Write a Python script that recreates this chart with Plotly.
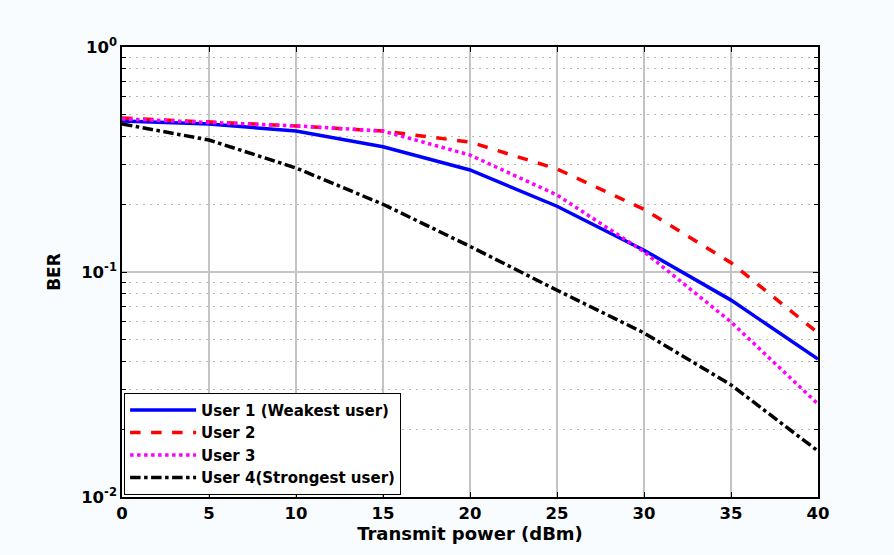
import plotly.graph_objects as go

# Transmit power sweep (dBm)
power_dbm = [0, 5, 10, 15, 20, 25, 30, 35, 40]

# Bit error rate per user
ber_user1 = [0.469, 0.455, 0.423, 0.360, 0.284, 0.196, 0.125, 0.075, 0.041]
ber_user2 = [0.483, 0.464, 0.446, 0.423, 0.378, 0.287, 0.190, 0.110, 0.0536]
ber_user3 = [0.479, 0.463, 0.446, 0.423, 0.331, 0.220, 0.123, 0.060, 0.0259]
ber_user4 = [0.455, 0.386, 0.290, 0.200, 0.130, 0.083, 0.0536, 0.0315, 0.016]

series_names = ["User 1 (Weakest user)", "User 2", "User 3", "User 4(Strongest user)"]

x_ticks = [0, 5, 10, 15, 20, 25, 30, 35, 40]
y_tickvals = [1, 0.1, 0.01]
y_ticktext = ["10<sup>0</sup>", "10<sup>-1</sup>", "10<sup>-2</sup>"]
y_minor = [m * d for d in (0.01, 0.1) for m in range(2, 10)]

FONT = "DejaVu Sans, sans-serif"

fig = go.Figure()

styles = [
    dict(color="#0000ff", width=3.5, dash="solid"),
    dict(color="#ff0000", width=3.5, dash="dash"),
    dict(color="#ff00ff", width=3.5, dash="dot"),
    dict(color="#000000", width=3.5, dash="dashdot"),
]
for name, ys, st in zip(series_names, [ber_user1, ber_user2, ber_user3, ber_user4], styles):
    fig.add_trace(go.Scatter(x=power_dbm, y=ys, mode="lines", name=name, line=st))

fig.update_layout(
    width=894, height=555,
    margin=dict(l=122, r=76, t=47, b=58),
    paper_bgcolor="#f8fcff",
    plot_bgcolor="#ffffff",
    font=dict(family=FONT, color="#000000", weight="bold"),
    legend=dict(
        x=0.003, y=0.005, xanchor="left", yanchor="bottom",
        bgcolor="#ffffff", bordercolor="#000000", borderwidth=1,
        font=dict(family=FONT, size=15, weight="bold"), tracegroupgap=0,
        itemwidth=66,
    ),
)

fig.update_xaxes(
    range=[0, 40], tickvals=x_ticks,
    showgrid=True, gridcolor="#c4c4c4", gridwidth=1.5,
    showline=True, linecolor="#000000", linewidth=1.5, mirror="ticks",
    ticks="inside", ticklen=5, tickcolor="#000000",
    tickfont=dict(family=FONT, size=16.5, weight="bold"),
    title=dict(text="Transmit power (dBm)", font=dict(family=FONT, size=18, weight="bold"), standoff=2),
    zeroline=False,
)
fig.update_yaxes(
    type="log", range=[-2, 0], tickvals=y_tickvals, ticktext=y_ticktext,
    showgrid=True, gridcolor="#c4c4c4", gridwidth=1.5,
    showline=True, linecolor="#000000", linewidth=1.5, mirror="ticks",
    ticks="inside", ticklen=5, tickcolor="#000000",
    tickfont=dict(family=FONT, size=16.5, weight="bold"),
    title=dict(text="BER", font=dict(family=FONT, size=17, weight="bold"), standoff=16),
    minor=dict(tickmode="array", tickvals=y_minor, ticks="inside", ticklen=4,
               tickcolor="#000000", showgrid=True, gridcolor="#b8b8b8",
               griddash="2px,5px", gridwidth=1),
    zeroline=False,
)

fig.write_html("out.html")
